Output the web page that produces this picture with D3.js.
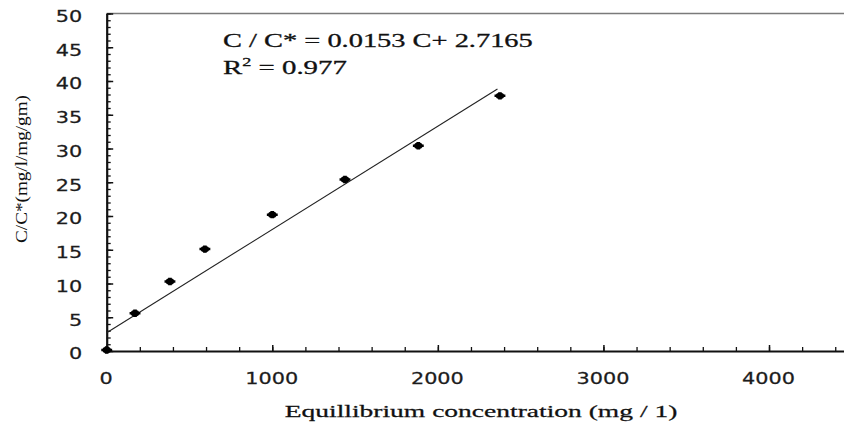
<!DOCTYPE html>
<html>
<head>
<meta charset="utf-8">
<script src="https://cdn.jsdelivr.net/npm/d3@7"></script>
<style>
  html, body { margin: 0; padding: 0; background: #fff; }
  svg { display: block; }
</style>
</head>
<body>
<svg id="chart" width="844" height="427"></svg>
<script>
// Equilibrium concentration (mg/l) and C/C* ratio for each measurement
const concentration = [0, 171, 382, 593, 1000, 1439, 1882, 2375];
const ratio = [0.15, 5.6, 10.3, 15.1, 20.2, 25.4, 30.4, 37.8];

// Linear fit reported on the chart
const fitSlope = 0.0153;
const fitIntercept = 2.7165;
const fitRange = [0, 2360];
const fitR2 = "0.977";

// Axis ticks
const xMajorTicks = [0, 1000, 2000, 3000, 4000];
const xMinorTicks = d3.range(0, 4600, 200);
const yMajorTicks = [0, 5, 10, 15, 20, 25, 30, 35, 40, 45, 50];
const yMinorTicks = d3.range(0, 51, 1);

const xTitle = "Equillibrium concentration (mg / 1)";
const yTitle = "C/C*(mg/l/mg/gm)";

const svg = d3.select("#chart");
const W = 844;

const x = d3.scaleLinear().domain([0, 4500]).range([106.7, 851.8]);
const y = d3.scaleLinear().domain([0, 50]).range([351, 13.5]);

const SX = 1.3; // horizontal stretch of the lettering

// top frame line of the plot area
svg.append("line")
  .attr("x1", x(0)).attr("x2", W)
  .attr("y1", y(50)).attr("y2", y(50))
  .attr("stroke", "#7a7a7a").attr("stroke-width", 1.5);

// ---- Y axis ----
const yMinor = svg.append("g").attr("transform", `translate(${x(0)},0)`)
  .call(d3.axisLeft(y).tickValues(yMinorTicks).tickSizeInner(-4).tickSizeOuter(0).tickFormat(""));
yMinor.select(".domain").remove();
yMinor.selectAll("line").attr("stroke", "#111").attr("stroke-width", 1.3);

const yAxis = svg.append("g").attr("transform", `translate(${x(0)},0)`)
  .call(d3.axisLeft(y).tickValues(yMajorTicks).tickSizeInner(-6.5).tickSizeOuter(0).tickFormat(d3.format("d")));
yAxis.select(".domain").attr("stroke", "#111").attr("stroke-width", 2.2);
yAxis.selectAll("line").attr("stroke", "#111").attr("stroke-width", 1.5);
yAxis.selectAll("text")
  .attr("x", null).attr("dy", null)
  .attr("transform", `translate(-24.5,7.8) scale(${SX},1)`)
  .attr("font-family", "DejaVu Sans").attr("font-size", 16)
  .attr("fill", "#1c1c1c").attr("stroke", "#1c1c1c").attr("stroke-width", 0.25);

// ---- X axis ----
const xMinor = svg.append("g").attr("transform", `translate(0,${y(0)})`)
  .call(d3.axisBottom(x).tickValues(xMinorTicks).tickSizeInner(-4).tickSizeOuter(0).tickFormat(""));
xMinor.select(".domain").remove();
xMinor.selectAll("line").attr("stroke", "#111").attr("stroke-width", 1.3);

const xAxis = svg.append("g").attr("transform", `translate(0,${y(0)})`)
  .call(d3.axisBottom(x).tickValues(xMajorTicks).tickSizeInner(-6).tickSizeOuter(0).tickFormat(d3.format("d")));
xAxis.select(".domain").attr("stroke", "#111").attr("stroke-width", 2.2);
xAxis.selectAll("line").attr("stroke", "#111").attr("stroke-width", 1.5);
xAxis.selectAll("text")
  .attr("y", null).attr("dy", null)
  .attr("transform", `translate(-1,33) scale(${SX},1)`)
  .attr("font-family", "DejaVu Sans").attr("font-size", 16)
  .attr("fill", "#1c1c1c").attr("stroke", "#1c1c1c").attr("stroke-width", 0.25);

// ---- fitted line ----
const line = d3.line().x(d => x(d)).y(d => y(fitSlope * d + fitIntercept));
svg.append("path")
  .datum(fitRange)
  .attr("d", line)
  .attr("fill", "none")
  .attr("stroke", "#222")
  .attr("stroke-width", 1.1);

// ---- data markers ----
const pts = concentration.map((c, i) => ({ c, v: ratio[i] }));
const marker = svg.append("g").selectAll("g.pt")
  .data(pts).join("g")
  .attr("class", "pt")
  .attr("transform", d => `translate(${x(d.c)},${y(d.v)})`);
marker.append("ellipse").attr("rx", 4.2).attr("ry", 3.2).attr("fill", "#000");
marker.append("path")
  .attr("d", d3.symbol().type(d3.symbolCross).size(42)())
  .attr("transform", "scale(1.25,0.85)")
  .attr("fill", "#000");

// ---- stretched text helper ----
function fitText(g, targetWidth) {
  const w = g.node().getBBox().width;
  return w > 0 ? targetWidth / w : 1;
}

// regression equation
const eq1 = svg.append("g");
eq1.append("text")
  .attr("font-family", "Liberation Serif").attr("font-size", 19).attr("fill", "#111")
  .attr("stroke", "#111").attr("stroke-width", 0.3)
  .text(`C / C* = ${fitSlope} C+ ${fitIntercept}`);
eq1.attr("transform", `translate(223,46.5) scale(${fitText(eq1, 310)},1)`);

const eq2 = svg.append("g");
const t2 = eq2.append("text")
  .attr("font-family", "Liberation Serif").attr("font-size", 19).attr("fill", "#111")
  .attr("stroke", "#111").attr("stroke-width", 0.3);
t2.append("tspan").text("R");
t2.append("tspan").attr("font-size", 12).attr("dy", -8).text("2");
t2.append("tspan").attr("dy", 8).text(` = ${fitR2}`);
eq2.attr("transform", `translate(223,74) scale(${fitText(eq2, 124)},1)`);

// axis titles
const xt = svg.append("g");
xt.append("text")
  .attr("font-family", "Liberation Serif").attr("font-size", 17).attr("fill", "#111")
  .attr("stroke", "#111").attr("stroke-width", 0.25)
  .attr("text-anchor", "middle")
  .text(xTitle);
xt.attr("transform", `translate(481,417) scale(${fitText(xt, 393)},1)`);

const yt = svg.append("g");
yt.append("text")
  .attr("font-family", "Liberation Serif").attr("font-size", 16).attr("fill", "#111")
  .attr("text-anchor", "middle")
  .text(yTitle);
const ys = fitText(yt, 148);
yt.attr("transform", `translate(27,169) rotate(-90) scale(${ys},1)`);
</script>
</body>
</html>
